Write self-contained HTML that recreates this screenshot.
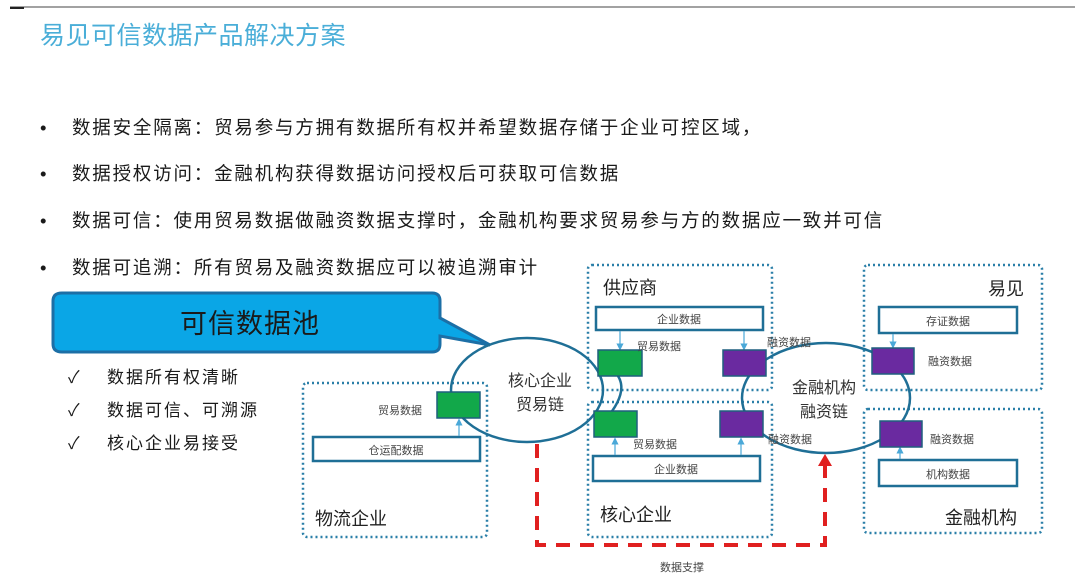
<!DOCTYPE html>
<html><head><meta charset="utf-8"><style>
html,body{margin:0;padding:0;background:#fff;}
svg{display:block;font-family:"Liberation Sans","Noto Sans CJK SC",sans-serif;}
</style></head><body>
<svg width="1080" height="584" viewBox="0 0 1080 584" xmlns="http://www.w3.org/2000/svg">
<defs>
<marker id="ab" markerWidth="6" markerHeight="6" refX="3" refY="3" orient="auto"><path d="M0,0 L6,3 L0,6 z" fill="#4aa8d8"/></marker>
</defs>
<line x1="10" y1="7" x2="1075" y2="7" stroke="#444" stroke-width="1"/>
<line x1="10" y1="8" x2="24" y2="8" stroke="#222" stroke-width="2"/>
<text x="40" y="44" font-size="25" fill="#4aaed8" letter-spacing="0.5">易见可信数据产品解决方案</text>
<g font-size="18.5" fill="#1a1a1a" letter-spacing="1.8">
<text x="40" y="134">•</text><text x="72" y="134">数据安全隔离：贸易参与方拥有数据所有权并希望数据存储于企业可控区域，</text>
<text x="40" y="180">•</text><text x="72" y="180">数据授权访问：金融机构获得数据访问授权后可获取可信数据</text>
<text x="40" y="227">•</text><text x="72" y="227">数据可信：使用贸易数据做融资数据支撑时，金融机构要求贸易参与方的数据应一致并可信</text>
<text x="40" y="274">•</text><text x="72" y="274">数据可追溯：所有贸易及融资数据应可以被追溯审计</text>
</g>
<path d="M62,293 H432 Q440,293 440,301 V318 L490,345 L440,336 V344 Q440,352 432,352 H62 Q53,352 53,344 V301 Q53,293 62,293 Z" fill="#0aa6e6" stroke="#1c6fa6" stroke-width="3"/>
<text x="250" y="333" font-size="27" text-anchor="middle" fill="#1a1a1a" letter-spacing="1">可信数据池</text>
<g font-size="17" fill="#1a1a1a" letter-spacing="2">
<text x="68" y="383">✓</text><text x="107" y="383">数据所有权清晰</text>
<text x="68" y="416">✓</text><text x="107" y="416">数据可信、可溯源</text>
<text x="68" y="449">✓</text><text x="107" y="449">核心企业易接受</text>
</g>
<g fill="none" stroke="#2a7fa8" stroke-width="2.5" stroke-dasharray="2,3">
<rect x="303" y="383" width="184" height="154" rx="4"/>
<rect x="588" y="265" width="184" height="125" rx="4"/>
<rect x="588" y="402" width="184" height="135" rx="4"/>
<rect x="864" y="265" width="178" height="125" rx="4"/>
<rect x="864" y="409" width="178" height="124" rx="4"/>
</g>
<ellipse cx="527" cy="390" rx="76" ry="52" fill="none" stroke="#1f6f96" stroke-width="2.5"/>
<path d="M600,362 Q640,380 605,420" fill="none" stroke="#1f6f96" stroke-width="2.5"/>
<ellipse cx="826" cy="398" rx="84" ry="55" fill="none" stroke="#1f6f96" stroke-width="2.5"/>
<g fill="#fff" stroke="#1f6f96" stroke-width="2.5">
<rect x="313" y="437" width="167" height="24"/>
<rect x="596" y="307" width="167" height="23"/>
<rect x="593" y="456" width="167" height="25"/>
<rect x="879" y="307" width="138" height="26"/>
<rect x="879" y="460" width="138" height="26"/>
</g>
<g font-size="11" fill="#444" text-anchor="middle">
<text x="396" y="454">仓运配数据</text>
<text x="679" y="323">企业数据</text>
<text x="676" y="473">企业数据</text>
<text x="948" y="325">存证数据</text>
<text x="948" y="478">机构数据</text>
</g>
<g stroke="#4aa8d8" stroke-width="1.2" marker-end="url(#ab)">
<line x1="459" y1="436" x2="459" y2="422"/>
<line x1="620" y1="331" x2="620" y2="347"/>
<line x1="744" y1="331" x2="744" y2="347"/>
<line x1="615" y1="455" x2="615" y2="441"/>
<line x1="741" y1="455" x2="741" y2="441"/>
<line x1="893" y1="334" x2="893" y2="345"/>
<line x1="900" y1="459" x2="900" y2="450"/>
</g>
<g stroke="#1f5f7e" stroke-width="1.5">
<rect x="437" y="392" width="43" height="26" fill="#12a84a"/>
<rect x="598" y="350" width="44" height="26" fill="#12a84a"/>
<rect x="594" y="411" width="43" height="26" fill="#12a84a"/>
<rect x="723" y="350" width="43" height="26" fill="#6a2aa0"/>
<rect x="720" y="411" width="43" height="26" fill="#6a2aa0"/>
<rect x="872" y="348" width="42" height="26" fill="#6a2aa0"/>
<rect x="880" y="421" width="42" height="26" fill="#6a2aa0"/>
</g>
<g font-size="11" fill="#444">
<text x="378" y="414">贸易数据</text>
<text x="637" y="350">贸易数据</text>
<text x="633" y="448">贸易数据</text>
<text x="767" y="346">融资数据</text>
<text x="768" y="443">融资数据</text>
<text x="928" y="365">融资数据</text>
<text x="930" y="443">融资数据</text>
</g>
<g font-size="16" fill="#333" text-anchor="middle">
<text x="540" y="386">核心企业</text>
<text x="540" y="410">贸易链</text>
<text x="824" y="393">金融机构</text>
<text x="824" y="417">融资链</text>
</g>
<g font-size="18" fill="#222">
<text x="603" y="294">供应商</text>
<text x="600" y="521">核心企业</text>
<text x="315" y="525">物流企业</text>
<text x="988" y="295">易见</text>
<text x="945" y="524">金融机构</text>
</g>
<path d="M537,444 V545 H825 V463" fill="none" stroke="#e02020" stroke-width="4" stroke-dasharray="14,10"/>
<path d="M818,466 L825,454 L832,466 Z" fill="#e02020"/>
<text x="682" y="571" font-size="11" fill="#444" text-anchor="middle">数据支撑</text>
</svg>
</body></html>
